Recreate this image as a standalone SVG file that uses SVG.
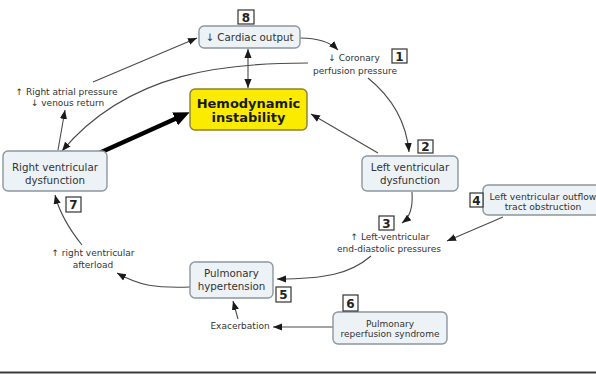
<svg xmlns="http://www.w3.org/2000/svg" width="596" height="374" viewBox="0 0 596 374">
  <defs>
    <style>
      .node { fill: #edf2f6; stroke: #8c979f; stroke-width: 1.4; }
      .hemo { fill: #fbeb00; stroke: #8a8030; stroke-width: 1.4; }
      .num { fill: #ffffff; stroke: #333333; stroke-width: 1.2; }
      .numt { font-family: "DejaVu Sans", Verdana, sans-serif; font-size: 12px; font-weight: bold; fill: #222; text-anchor: middle; }
      .t { font-family: "DejaVu Sans", Verdana, sans-serif; font-size: 10.3px; fill: #333; text-anchor: middle; }
      .s { font-family: "DejaVu Sans", Verdana, sans-serif; font-size: 9px; fill: #333; text-anchor: middle; }
      .b { font-family: "DejaVu Sans", Verdana, sans-serif; font-size: 13px; font-weight: bold; fill: #1a1a1a; text-anchor: middle; }
      .c { fill: none; stroke: #4a4a4a; stroke-width: 1.1; }
    </style>
    <marker id="arr" viewBox="0 0 10 10" refX="10" refY="5" markerWidth="9" markerHeight="9" markerUnits="userSpaceOnUse" orient="auto-start-reverse">
      <path d="M0,1 L10,5 L0,9 z" fill="#1a1a1a"/>
    </marker>
    <marker id="big" viewBox="0 0 16 14" refX="1" refY="7" markerWidth="16" markerHeight="14" markerUnits="userSpaceOnUse" orient="auto">
      <path d="M0,0 L16,7 L0,14 z" fill="#000"/>
    </marker>
  </defs>

  <rect width="596" height="374" fill="#ffffff"/>

  <!-- connectors -->
  <g id="connectors">
    <path class="c" d="M300,38 Q326,38 338,50" marker-end="url(#arr)"/>
    <path class="c" d="M368,78 Q405,108 409,152" marker-end="url(#arr)"/>
    <path class="c" d="M378,153 L311,114" marker-end="url(#arr)"/>
    <path class="c" d="M308,63 C230,63 130,70 62,151" marker-end="url(#arr)"/>
    <path class="c" d="M248,49 L248,88" marker-start="url(#arr)" marker-end="url(#arr)"/>
    <path class="c" d="M93,82 L197,38" marker-end="url(#arr)"/>
    <path class="c" d="M58,150 L65,110" marker-end="url(#arr)"/>
    <path d="M97,154 L176,118.5" stroke="#000" stroke-width="4.5" fill="none" marker-end="url(#big)"/>
    <path class="c" d="M412,192 C413,208 410,217 402,223" marker-end="url(#arr)"/>
    <path class="c" d="M503,217 L447,241" marker-end="url(#arr)"/>
    <path class="c" d="M371,256 C350,274 325,279 277,279" marker-end="url(#arr)"/>
    <path class="c" d="M190,287 C155,288 140,286 117,273" marker-end="url(#arr)"/>
    <path class="c" d="M82,245 C70,230 60,215 55,195" marker-end="url(#arr)"/>
    <path class="c" d="M238,319 L233,301" marker-end="url(#arr)"/>
    <path class="c" d="M333,327 L273,327" marker-end="url(#arr)"/>
  </g>

  <g id="cardiac-output">
    <rect class="node" x="199" y="26" width="101" height="22" rx="5"/>
    <text class="t" x="249.5" y="41">↓ Cardiac output</text>
  </g>

  <g id="hemodynamic-instability">
    <rect class="hemo" x="190" y="89" width="117" height="41" rx="5"/>
    <text class="b" x="248.5" y="107.5">Hemodynamic</text>
    <text class="b" x="248.5" y="122">instability</text>
  </g>

  <g id="rv-dysfunction">
    <rect class="node" x="3" y="151" width="104" height="40" rx="5"/>
    <text class="t" x="55" y="170.5">Right ventricular</text>
    <text class="t" x="55" y="184">dysfunction</text>
  </g>

  <g id="lv-dysfunction">
    <rect class="node" x="362" y="156" width="96" height="35" rx="5"/>
    <text class="t" x="410" y="170.5">Left ventricular</text>
    <text class="t" x="410" y="184">dysfunction</text>
  </g>

  <g id="lvot-obstruction">
    <rect class="node" x="483" y="185" width="122" height="30" rx="5"/>
    <text class="s" x="543" y="199.5" style="font-size:9.2px">Left ventricular outflow</text>
    <text class="s" x="543" y="210" style="font-size:9.2px">tract obstruction</text>
  </g>

  <g id="pulmonary-reperfusion">
    <rect class="node" x="333" y="312" width="114" height="32" rx="5"/>
    <text class="s" x="390" y="326.5">Pulmonary</text>
    <text class="s" x="390" y="337">reperfusion syndrome</text>
  </g>

  <g id="pulmonary-hypertension">
    <rect class="node" x="190" y="262" width="83" height="36" rx="5"/>
    <text class="t" x="231.5" y="277">Pulmonary</text>
    <text class="t" x="231.5" y="290">hypertension</text>
  </g>

  <g id="coronary-perfusion">
    <text class="s" x="354" y="61">↓ Coronary</text>
    <text class="s" x="355" y="74">perfusion pressure</text>
  </g>

  <g id="right-atrial-pressure">
    <text class="s" x="66.5" y="95">↑ Right atrial pressure</text>
    <text class="s" x="67.5" y="106">↓ venous return</text>
  </g>

  <g id="lv-end-diastolic">
    <text class="s" x="390" y="240">↑ Left-ventricular</text>
    <text class="s" x="389" y="252">end-diastolic pressures</text>
  </g>

  <g id="rv-afterload">
    <text class="s" x="93" y="256">↑ right ventricular</text>
    <text class="s" x="93" y="268">afterload</text>
  </g>

  <g id="exacerbation">
    <text class="s" x="240" y="329">Exacerbation</text>
  </g>

  <!-- step numbers -->
  <g id="step-numbers">
    <rect class="num" x="238" y="10" width="16" height="14"/><text class="numt" x="246" y="21.5">8</text>
    <rect class="num" x="392" y="49" width="15" height="14"/><text class="numt" x="399.5" y="60.5">1</text>
    <rect class="num" x="418" y="140" width="15" height="13"/><text class="numt" x="425.5" y="151">2</text>
    <rect class="num" x="379" y="216" width="15" height="14"/><text class="numt" x="386.5" y="227.5">3</text>
    <rect class="num" x="470" y="193" width="13" height="14"/><text class="numt" x="476.5" y="204.5">4</text>
    <rect class="num" x="276" y="287" width="15" height="15"/><text class="numt" x="283.5" y="299">5</text>
    <rect class="num" x="343" y="295" width="15" height="16"/><text class="numt" x="350.5" y="307.5">6</text>
    <rect class="num" x="66" y="197" width="15" height="15"/><text class="numt" x="73.5" y="209">7</text>
  </g>

  <line x1="0" y1="372.5" x2="596" y2="372.5" stroke="#3a3a3a" stroke-width="2"/>
</svg>
